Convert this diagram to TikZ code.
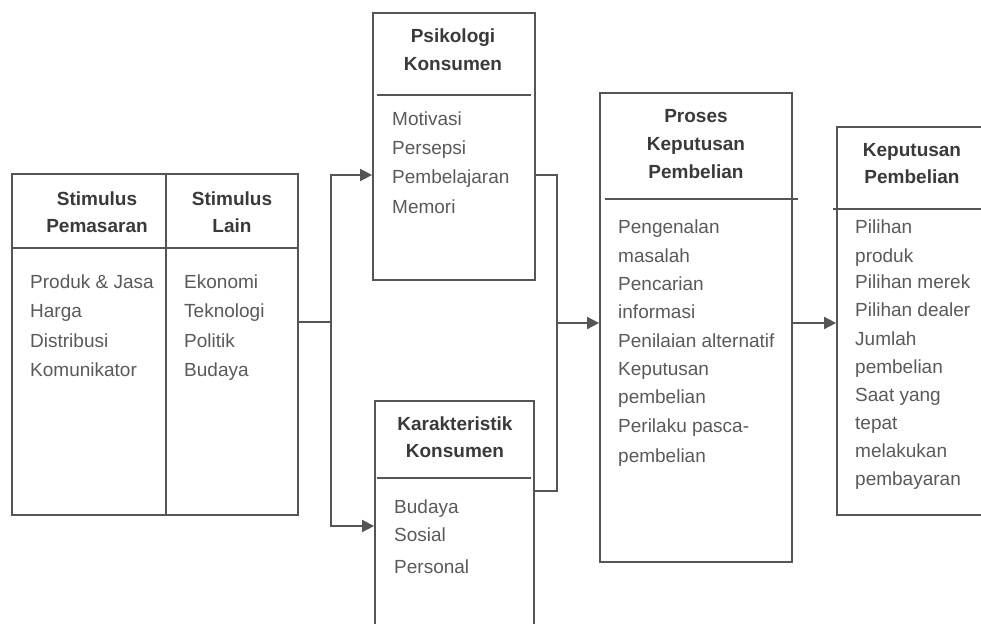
\documentclass[tikz,border=0pt]{standalone}
\usepackage{fontspec}
\setmainfont{Liberation Sans}
\usetikzlibrary{arrows.meta}
\definecolor{linec}{HTML}{555555}
\definecolor{headc}{HTML}{3A3A3A}
\definecolor{bodyc}{HTML}{5A5A5A}
\begin{document}
\begin{tikzpicture}[x=1pt,y=-1pt,
 box/.style={draw=linec,line width=1.8pt,inner sep=0pt,rectangle},
 conn/.style={draw=linec,line width=1.8pt},
 arr/.style={conn,-{Triangle[length=12pt,width=12pt]}},
 head/.style={font=\fontsize{19}{23}\selectfont\bfseries,text=headc,inner sep=0pt,anchor=base},
 body/.style={font=\fontsize{19}{23}\selectfont,text=bodyc,inner sep=0pt,anchor=base west}]
\useasboundingbox (0,0) rectangle (981,623);
\clip (0,0) rectangle (981,623);
\fill[white] (0,0) rectangle (981,623);

% boxes
\node[box,minimum width=286pt,minimum height=341pt] (stim) at (155,344.5) {};
\node[box,minimum width=162pt,minimum height=267pt] (psi) at (454,146.5) {};
\node[box,minimum width=159pt,minimum height=259pt] (kar) at (454.5,530.5) {};
\node[box,minimum width=192pt,minimum height=469pt] (pro) at (696,327.5) {};
\node[box,minimum width=173pt,minimum height=388pt] (kep) at (923.5,321) {};

% dividers
\draw[conn] (166,174) -- (166,515);
\draw[conn] (12,248) -- (298,248);
\draw[conn] (377,95) -- (531,95);
\draw[conn] (377,478) -- (531,478);
\draw[conn] (605,199) -- (798,199);
\draw[conn] (833,209) -- (1000,209);

% headers
\node[head] (h1a) at (97,205) {Stimulus};
\node[head] (h1b) at (97,232) {Pemasaran};
\node[head] (h2a) at (232,205) {Stimulus};
\node[head] (h2b) at (232,232) {Lain};
\node[head] (h3a) at (453,43) {Psikologi};
\node[head] (h3b) at (453,71) {Konsumen};
\node[head] (h4a) at (455,430) {Karakteristik};
\node[head] (h4b) at (455,457) {Konsumen};
\node[head] (h5a) at (696,122) {Proses};
\node[head] (h5b) at (696,150) {Keputusan};
\node[head] (h5c) at (696,178) {Pembelian};
\node[head] (h6a) at (912,156) {Keputusan};
\node[head] (h6b) at (912,183) {Pembelian};

% bodies
\foreach \t/\y [count=\i] in {Produk \& Jasa/288,Harga/317.5,Distribusi/347,Komunikator/376.5}
  \node[body] (sp\i) at (30,\y) {\t};
\foreach \t/\y [count=\i] in {Ekonomi/288,Teknologi/317.5,Politik/347,Budaya/376.5}
  \node[body] (sl\i) at (184,\y) {\t};
\foreach \t/\y [count=\i] in {Motivasi/125,Persepsi/154,Pembelajaran/183,Memori/213}
  \node[body] (ps\i) at (392,\y) {\t};
\foreach \t/\y [count=\i] in {Budaya/513,Sosial/541,Personal/573}
  \node[body] (ka\i) at (394,\y) {\t};
\foreach \t/\y [count=\i] in {Pengenalan/233,masalah/262,Pencarian/290,informasi/318,Penilaian alternatif/347,Keputusan/375,pembelian/403,Perilaku pasca-/432,pembelian/462}
  \node[body] (pr\i) at (618,\y) {\t};
\foreach \t/\y [count=\i] in {Pilihan/233,produk/262,Pilihan merek/288,Pilihan dealer/316,Jumlah/345,pembelian/373,Saat yang/401,tepat/429,melakukan/457,pembayaran/485}
  \node[body] (kp\i) at (855,\y) {\t};

% connectors
\coordinate (ja) at (331,322);
\coordinate (jt) at (331,175);
\coordinate (jb) at (331,526);
\draw[conn] (stim.east |- ja) -- (ja);
\draw[arr] (jb) -- (jt) -- (psi.west |- jt);
\draw[arr] (jt) -- (jb) -- (kar.west |- jb);
\coordinate (ma) at (557,175);
\coordinate (mb) at (557,491);
\coordinate (mc) at (557,323);
\draw[conn] (psi.east |- ma) -- (ma) -- (mb) -- (kar.east |- mb);
\draw[arr] (mc) -- (pro.west |- mc);
\draw[arr] (pro.east |- mc) -- (kep.west |- mc);
\end{tikzpicture}
\end{document}
